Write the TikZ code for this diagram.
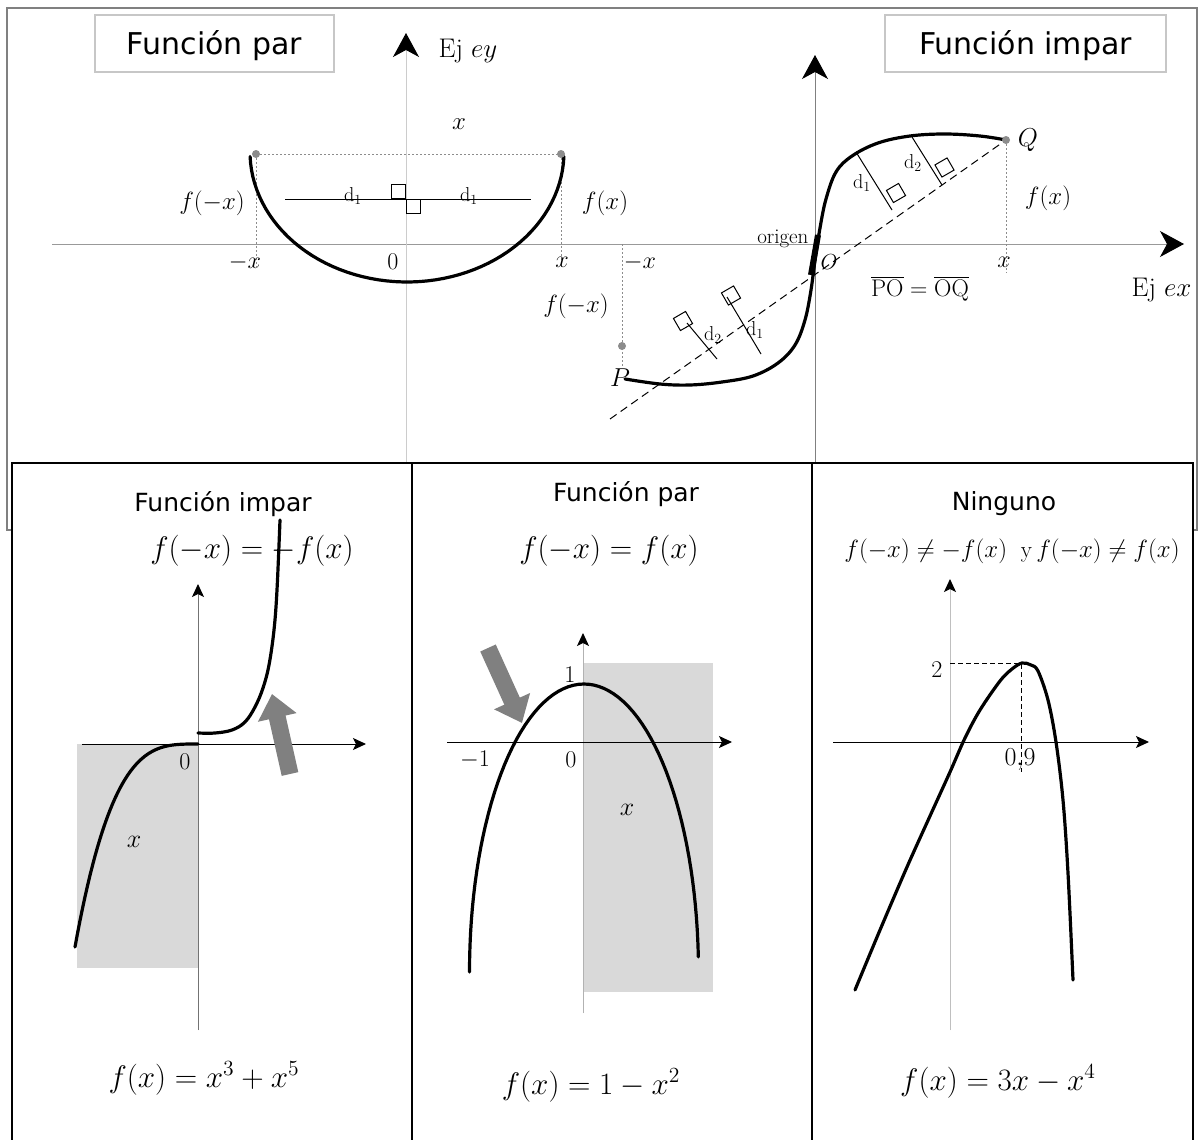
\documentclass[tikz,border=0pt]{standalone}
\usepackage{fontspec}
\newfontfamily\titlefont{DejaVu Sans}
\usetikzlibrary{arrows.meta}

\tikzset{
  curve/.style={line width=3.2pt, line cap=round},
  bigtip/.style={-{Stealth[length=24pt, width=26pt, inset=7pt, color=black]}},
  smalltip/.style={-{Stealth[length=13pt, width=12pt, inset=3pt, color=black]}},
  dotline/.style={black!45, line width=0.8pt, dash pattern=on 2pt off 2pt},
  dashline/.style={line width=1pt, dash pattern=on 8pt off 5pt},
  gdot/.style={circle, fill=black!45, inner sep=0pt, minimum size=8pt},
  sqmark/.style={draw, line width=1pt, inner sep=0pt, minimum size=14pt},
  hbox/.style={draw=black!22, line width=1.2pt, font=\titlefont\fontsize{30}{36}\selectfont,
    text height=27pt, text depth=4pt},
  ttl/.style={font=\titlefont\fontsize{25}{30}\selectfont, anchor=base},
  mth/.style={font=\fontsize{20.74}{25}\selectfont},
  lbl/.style={mth, scale=1.16},
  flbl/.style={mth, scale=1.2, anchor=base},
  dlbl/.style={mth, scale=0.97},
  frm/.style={mth, scale=1.5, anchor=base},
  panel/.style={draw, fill=white, line width=2pt},
  fatarrow/.style={draw=black!50, line width=17pt, -{Triangle[length=24pt, width=38pt, color=black!50]}},
  shade/.style={fill=black!15}
}

\begin{document}
\begin{tikzpicture}[x=1pt, y=-1pt]
  \useasboundingbox (0,0) rectangle (1203,1140);
  \fill[white] (0,0) rectangle (1203,1140);
  % frame of the upper panel
  \draw[black!50, line width=1.8pt] (7,8) rectangle (1197,530);
  % headings
  \node[hbox, minimum width=239pt, minimum height=57pt] (hPar) at (214.5,43.5) {Función par};
  \node[hbox, minimum width=281pt, minimum height=57pt] (hImpar) at (1025.5,43.5) {Función impar};

  % axes
  \coordinate (exL) at (52,244);  \coordinate (exR) at (1184,244);
  \coordinate (eyB) at (406,462); \coordinate (eyT) at (406,33);
  \coordinate (oyB) at (815,462); \coordinate (oyT) at (815,55);
  \draw[black!40, line width=1pt, bigtip] (exL) -- (exR);
  \draw[black!20, line width=1pt, bigtip] (eyB) -- (eyT);
  \draw[black!50, line width=1pt, bigtip] (oyB) -- (oyT);
  \node[mth, scale=1.3, anchor=base west] (eyLbl) at (434,58) {Ej $ey$};
  \node[mth, scale=1.3, anchor=base west] (exLbl) at (1127,296) {Ej $ex$};

  % even function: f(-x) = f(x)
  \coordinate (pA) at (256,154); \coordinate (pB) at (561,154);
  \draw[dotline] (pA) -- (pB);
  \draw[dotline] (pA) -- (256,267);
  \draw[dotline] (pB) -- (561,267);
  \draw[curve] plot[domain=182:358, samples=60] ({407+157*cos(\x)}, {152-130*sin(\x)});
  \node[gdot] (dA) at (pA) {};
  \node[gdot] (dB) at (pB) {};
  \node[mth, scale=1.2] (xTop) at (459,124) {$x$};
  \draw[line width=1pt] (285,199) -- (531,199);
  \node[sqmark, anchor=south east] (sq1) at (406,199) {};
  \node[sqmark, anchor=north west] (sq2) at (406,199) {};
  \node[dlbl] (dL1) at (353,196) {$\mathrm{d}_1$};
  \node[dlbl] (dL2) at (469,196) {$\mathrm{d}_1$};
  \node[flbl] (fmxL) at (212,209) {$f(-x)$};
  \node[flbl] (fxL) at (605,209) {$f(x)$};
  \node[lbl] (mxL) at (245,262) {$-x$};
  \node[lbl] (zeroL) at (393,262) {$0$};
  \node[lbl] (xL) at (562,262) {$x$};

  % odd function: PO = OQ
  \coordinate (P) at (625,379); \coordinate (Q) at (1006,140);
  \coordinate (dashS) at (610,419);
  \draw[dotline] (Q) -- (1006,273);
  \draw[dotline] (622,244) -- (622,367);
  \draw[dashline] (dashS) -- (Q);
  \draw[curve] plot[smooth, tension=0.6] coordinates {(625,379) (660,384) (690,385) (722,382)
    (753,376) (778,363) (795,345) (805,320) (811,290) (815,260) (820,228) (826,199) (836,172)
    (852,156) (878,143) (910,136) (945,134) (980,136) (1006,140)};
  \draw[line width=6pt] (811,275) -- (818,235);
  \node[gdot] (dQ) at (Q) {};
  \node[gdot] (dP) at (622,346) {};
  \node[mth, scale=1.25] (Qlbl) at (1028,140) {$Q$};
  \node[mth, scale=1.25] (Plbl) at (620,378) {$P$};
  \node[mth, scale=1.05] (Olbl) at (829,262) {$O$};
  \node[font=\fontsize{21}{24}\selectfont, anchor=base east] (orig) at (812,243) {origen};
  % perpendicular distances
  \draw[line width=1pt] (856,152) -- (892,210);
  \draw[line width=1pt] (912,137) -- (942,185);
  \draw[line width=1pt] (687,323) -- (717,359);
  \draw[line width=1pt] (727,297) -- (761,354);
  \node[sqmark, rotate=30] (sq3) at (896,193) {};
  \node[sqmark, rotate=30] (sq4) at (944.5,167.5) {};
  \node[sqmark, rotate=30] (sq5) at (683,321) {};
  \node[sqmark, rotate=30] (sq6) at (731,295.5) {};
  \node[dlbl] (dR1) at (862,183) {$\mathrm{d}_1$};
  \node[dlbl] (dR2) at (913,163) {$\mathrm{d}_2$};
  \node[dlbl] (dR3) at (713,335) {$\mathrm{d}_2$};
  \node[dlbl] (dR4) at (755,330) {$\mathrm{d}_1$};
  \node[flbl] (fxR) at (1048,204) {$f(x)$};
  \node[flbl] (fmxR) at (576,312) {$f(-x)$};
  \node[lbl] (xR) at (1004,262) {$x$};
  \node[lbl] (mxR) at (640,262) {$-x$};
  \node[mth, scale=1.16, anchor=base] (POQ) at (920,296)
    {$\overline{\mathrm{PO}}=\overline{\mathrm{OQ}}$};

  % lower panels
  \draw[panel] (12,463) rectangle (412,1146);
  \draw[panel] (412,463) rectangle (812,1146);
  \draw[panel] (812,463) rectangle (1193,1146);

  % panel 1: odd
  \node[ttl] (t1) at (223,511) {Función impar};
  \fill[shade] (77,744) rectangle (198,968);
  \coordinate (ay1B) at (198,1030); \coordinate (ay1T) at (198,584);
  \coordinate (ax1L) at (82,744);   \coordinate (ax1R) at (366,744);
  \draw[black!55, line width=1pt, smalltip] (ay1B) -- (ay1T);
  \draw[line width=1pt, smalltip] (ax1L) -- (ax1R);
  \draw[curve] plot[domain=75:197.5, samples=50] (\x, {744+203*pow((198-\x)/123,3.35)}) -- (198,744);
  \draw[curve] plot[smooth, tension=0.6] coordinates {(198,733) (215,733) (232,730) (245,722)
    (255,707) (263,688) (269,665) (274,630) (277,590) (280,520)};
  \node[frm] (e1) at (252,558) {$f(-x)=-f(x)$};
  \node[lbl] (z1) at (185,762) {$0$};
  \node[mth, scale=1.25] (x1) at (134,842) {$x$};
  \coordinate (g1S) at (290,774); \coordinate (g1E) at (272,694);
  \draw[fatarrow] (g1S) -- (g1E);
  \node[frm] (f1) at (204,1087) {$f(x)=x^3+x^5$};

  % panel 2: even
  \node[ttl] (t2) at (626,501) {Función par};
  \fill[shade] (583,663) rectangle (713,992);
  \coordinate (ay2B) at (583,1013); \coordinate (ay2T) at (583,633);
  \coordinate (ax2L) at (447,742);  \coordinate (ax2R) at (732,742);
  \draw[black!30, line width=1pt, smalltip] (ay2B) -- (ay2T);
  \draw[line width=1pt, smalltip] (ax2L) -- (ax2R);
  \draw[curve] plot[domain=3:180, samples=70] ({584+114.5*cos(\x)}, {972-288*sin(\x)});
  \node[frm] (e2) at (609,558) {$f(-x)=f(x)$};
  \node[lbl] (one2) at (570,675) {$1$};
  \node[lbl] (m2) at (475,760) {$-1$};
  \node[lbl] (z2) at (571,760) {$0$};
  \node[mth, scale=1.25] (x2) at (627,810) {$x$};
  \coordinate (g2S) at (488,648); \coordinate (g2E) at (522,723);
  \draw[fatarrow] (g2S) -- (g2E);
  \node[frm] (f2) at (591,1094) {$f(x)=1-x^2$};

  % panel 3: neither
  \node[ttl] (t3) at (1004,510) {Ninguno};
  \coordinate (ay3B) at (950,1030); \coordinate (ay3T) at (950,579);
  \coordinate (ax3L) at (833,742);  \coordinate (ax3R) at (1149,742);
  \draw[black!25, line width=1pt, smalltip] (ay3B) -- (ay3T);
  \draw[line width=1pt, smalltip] (ax3L) -- (ax3R);
  \coordinate (pk) at (1021,663);
  \draw[line width=0.9pt, dash pattern=on 5pt off 3pt] (950,663) -- (pk) -- (1021,772);
  \draw[curve] plot[smooth, tension=0.55] coordinates {(855,990) (880,930) (907,867) (930,816)
    (950,772) (965,738) (980,710) (1000,681) (1012,669) (1022,663) (1031,665) (1038,671)
    (1048,700) (1056,742) (1063,800) (1068,873) (1073,980)};
  \node[font=\fontsize{23}{26}\selectfont, anchor=base] (e3) at (1012,557)
    {$f(-x)\neq-f(x)\ \ \mathrm{y}\,f(-x)\neq f(x)$};
  \node[lbl] (two3) at (937,670) {$2$};
  \node[mth, scale=1.25] (n3) at (1020,760) {$0{,}9$};
  \node[frm] (f3) at (998,1090) {$f(x)=3x-x^4$};
\end{tikzpicture}
\end{document}
